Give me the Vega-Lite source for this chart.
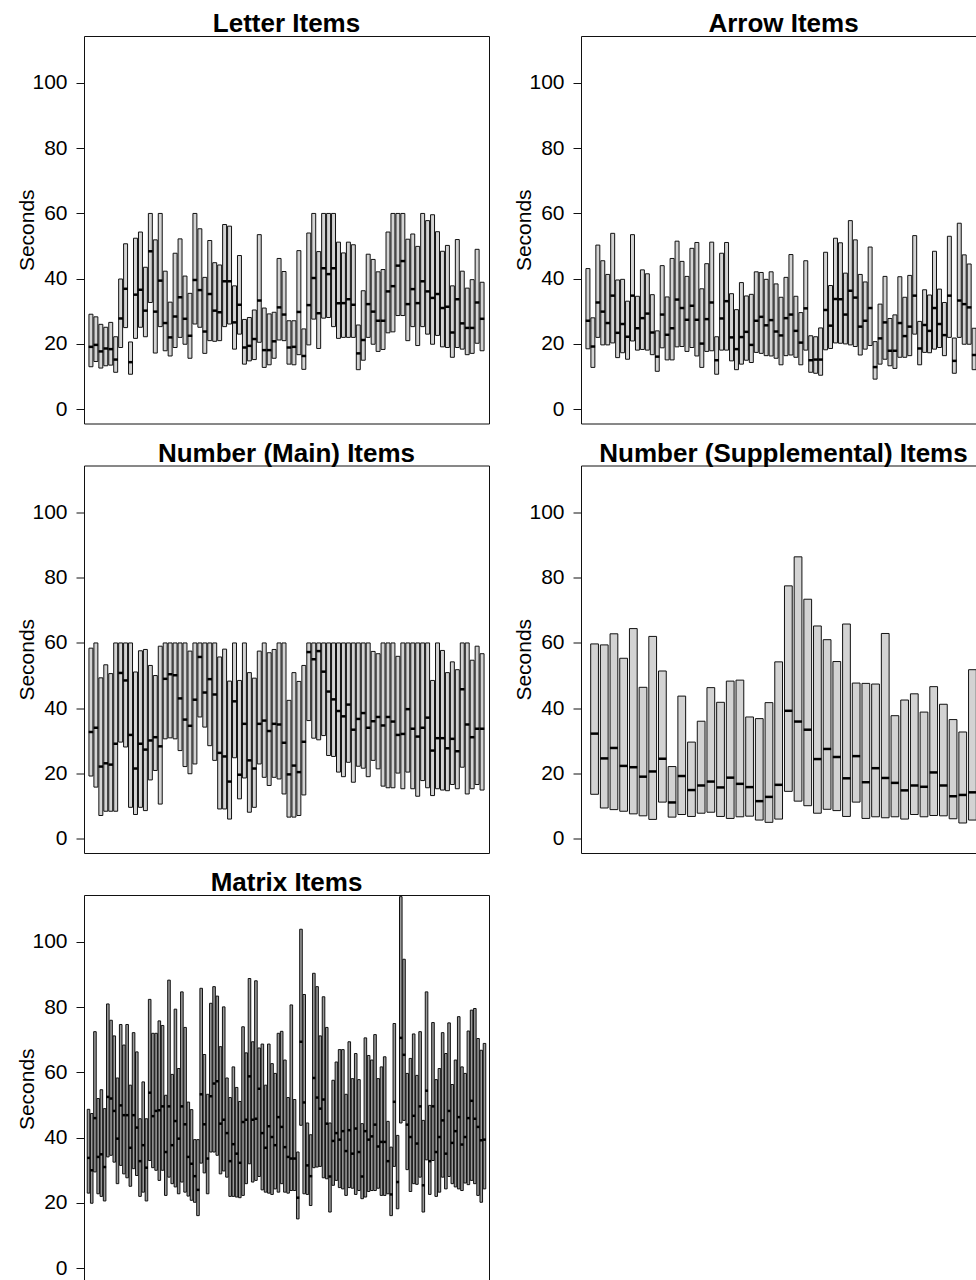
{"$schema":"https://vega.github.io/schema/vega-lite/v6.json","background":"white","padding":{"left":16,"top":10,"right":0,"bottom":0},
"config":{"view":{"stroke":"#111","strokeWidth":1},
"axisY":{"domain":false,"grid":false,"tickColor":"#111","tickSize":8,"tickWidth":1,"labelFont":"Liberation Sans","labelFontSize":21,"labelColor":"#000","labelPadding":9,"titleFont":"Liberation Sans","titleFontSize":21,"titleFontWeight":"normal","titleColor":"#000","titleAngle":-90,"titleX":-50.5,"titleY":193.75,"titleBaseline":"alphabetic","titleAlign":"center"},
"title":{"font":"Liberation Sans","fontSize":26,"fontWeight":"bold","color":"#000","offset":-1,"baseline":"alphabetic","anchor":"middle"}},
"datasets":{
"letter":[{"i":1,"lo":13.0,"md":19.1,"hi":29.1},{"i":2,"lo":14.6,"md":19.7,"hi":28.3},{"i":3,"lo":12.6,"md":17.7,"hi":26.0},{"i":4,"lo":13.3,"md":18.6,"hi":25.1},{"i":5,"lo":13.5,"md":18.4,"hi":26.6},{"i":6,"lo":11.3,"md":15.2,"hi":22.2},{"i":7,"lo":18.9,"md":27.8,"hi":39.9},{"i":8,"lo":25.0,"md":36.9,"hi":50.7},{"i":9,"lo":10.7,"md":14.4,"hi":20.6},{"i":10,"lo":21.7,"md":35.1,"hi":52.4},{"i":11,"lo":25.1,"md":36.6,"hi":54.3},{"i":12,"lo":22.2,"md":30.2,"hi":43.5},{"i":13,"lo":32.7,"md":48.4,"hi":60},{"i":14,"lo":17.2,"md":29.9,"hi":51.9},{"i":15,"lo":25.3,"md":39.4,"hi":60},{"i":16,"lo":17.9,"md":26.4,"hi":42.3},{"i":17,"lo":16.3,"md":22.0,"hi":32.8},{"i":18,"lo":18.9,"md":28.4,"hi":47.8},{"i":19,"lo":22.0,"md":34.3,"hi":52.2},{"i":20,"lo":19.9,"md":27.7,"hi":40.8},{"i":21,"lo":15.6,"md":22.5,"hi":35.5},{"i":22,"lo":26.1,"md":39.6,"hi":60},{"i":23,"lo":25.1,"md":36.5,"hi":55.3},{"i":24,"lo":17.1,"md":23.8,"hi":40.4},{"i":25,"lo":21.0,"md":35.3,"hi":51.7},{"i":26,"lo":20.8,"md":30.2,"hi":44.9},{"i":27,"lo":21.0,"md":29.7,"hi":44.2},{"i":28,"lo":25.3,"md":39.2,"hi":56.6},{"i":29,"lo":26.1,"md":39.2,"hi":56.1},{"i":30,"lo":18.4,"md":26.6,"hi":37.8},{"i":31,"lo":23.0,"md":32.0,"hi":47.1},{"i":32,"lo":13.8,"md":18.9,"hi":27.5},{"i":33,"lo":14.8,"md":19.4,"hi":28.1},{"i":34,"lo":15.2,"md":21.5,"hi":30.4},{"i":35,"lo":20.5,"md":33.3,"hi":53.5},{"i":36,"lo":12.8,"md":18.1,"hi":31.0},{"i":37,"lo":13.6,"md":18.1,"hi":29.2},{"i":38,"lo":15.6,"md":20.8,"hi":29.7},{"i":39,"lo":21.2,"md":31.2,"hi":46.2},{"i":40,"lo":21.0,"md":29.0,"hi":42.2},{"i":41,"lo":13.8,"md":18.9,"hi":27.1},{"i":42,"lo":13.6,"md":19.1,"hi":27.1},{"i":43,"lo":16.7,"md":29.8,"hi":48.6},{"i":44,"lo":12.2,"md":16.3,"hi":24.6},{"i":45,"lo":19.7,"md":31.9,"hi":54.0},{"i":46,"lo":27.6,"md":40.2,"hi":60},{"i":47,"lo":18.6,"md":29.4,"hi":48.3},{"i":48,"lo":27.9,"md":43.2,"hi":60},{"i":49,"lo":28.1,"md":41.4,"hi":60},{"i":50,"lo":25.3,"md":43.2,"hi":60},{"i":51,"lo":21.7,"md":32.5,"hi":51.2},{"i":52,"lo":22.0,"md":32.5,"hi":47.9},{"i":53,"lo":22.0,"md":33.7,"hi":51.2},{"i":54,"lo":22.0,"md":32.0,"hi":50.4},{"i":55,"lo":12.1,"md":17.1,"hi":25.8},{"i":56,"lo":15.0,"md":21.2,"hi":36.3},{"i":57,"lo":22.0,"md":32.2,"hi":47.5},{"i":58,"lo":19.9,"md":29.9,"hi":45.9},{"i":59,"lo":17.7,"md":27.1,"hi":42.1},{"i":60,"lo":18.3,"md":27.1,"hi":42.8},{"i":61,"lo":23.4,"md":36.1,"hi":54.3},{"i":62,"lo":23.7,"md":37.7,"hi":60},{"i":63,"lo":28.7,"md":44.0,"hi":60},{"i":64,"lo":28.7,"md":45.4,"hi":60},{"i":65,"lo":21.0,"md":32.2,"hi":52.1},{"i":66,"lo":25.3,"md":36.8,"hi":53.7},{"i":67,"lo":19.5,"md":32.5,"hi":49.9},{"i":68,"lo":25.3,"md":39.2,"hi":60},{"i":69,"lo":23.0,"md":36.1,"hi":57.8},{"i":70,"lo":19.9,"md":34.1,"hi":59.6},{"i":71,"lo":22.6,"md":35.3,"hi":54.4},{"i":72,"lo":19.1,"md":31.0,"hi":48.4},{"i":73,"lo":18.9,"md":31.4,"hi":50.2},{"i":74,"lo":15.9,"md":23.5,"hi":37.8},{"i":75,"lo":18.9,"md":33.7,"hi":52.0},{"i":76,"lo":18.4,"md":26.3,"hi":42.3},{"i":77,"lo":16.7,"md":24.9,"hi":37.1},{"i":78,"lo":17.1,"md":24.9,"hi":39.7},{"i":79,"lo":20.2,"md":32.7,"hi":49.0},{"i":80,"lo":17.9,"md":27.7,"hi":38.9}],
"arrow":[{"i":1,"lo":18.5,"md":27.1,"hi":43.1},{"i":2,"lo":12.8,"md":19.2,"hi":28.0},{"i":3,"lo":22.0,"md":32.7,"hi":50.3},{"i":4,"lo":19.7,"md":29.9,"hi":45.5},{"i":5,"lo":19.7,"md":26.4,"hi":41.3},{"i":6,"lo":20.3,"md":34.8,"hi":53.9},{"i":7,"lo":15.8,"md":23.4,"hi":39.6},{"i":8,"lo":17.3,"md":26.1,"hi":39.8},{"i":9,"lo":15.3,"md":22.2,"hi":33.1},{"i":10,"lo":20.9,"md":34.8,"hi":53.5},{"i":11,"lo":18.1,"md":24.8,"hi":34.6},{"i":12,"lo":18.3,"md":27.9,"hi":42.7},{"i":13,"lo":18.1,"md":29.3,"hi":41.5},{"i":14,"lo":16.7,"md":23.5,"hi":35.1},{"i":15,"lo":11.6,"md":16.1,"hi":24.0},{"i":16,"lo":18.8,"md":29.0,"hi":44.0},{"i":17,"lo":15.1,"md":22.8,"hi":34.4},{"i":18,"lo":15.1,"md":24.8,"hi":46.2},{"i":19,"lo":19.1,"md":33.6,"hi":51.5},{"i":20,"lo":19.2,"md":31.0,"hi":45.3},{"i":21,"lo":17.7,"md":27.4,"hi":40.7},{"i":22,"lo":18.9,"md":31.7,"hi":49.3},{"i":23,"lo":16.3,"md":27.4,"hi":51.1},{"i":24,"lo":12.8,"md":20.1,"hi":36.9},{"i":25,"lo":17.7,"md":27.6,"hi":44.6},{"i":26,"lo":17.9,"md":32.7,"hi":51.2},{"i":27,"lo":10.7,"md":15.0,"hi":22.2},{"i":28,"lo":18.1,"md":27.8,"hi":47.8},{"i":29,"lo":18.1,"md":33.1,"hi":51.1},{"i":30,"lo":14.8,"md":22.0,"hi":35.4},{"i":31,"lo":12.1,"md":18.4,"hi":30.5},{"i":32,"lo":13.8,"md":22.1,"hi":38.8},{"i":33,"lo":15.0,"md":23.7,"hi":34.7},{"i":34,"lo":14.3,"md":19.7,"hi":35.2},{"i":35,"lo":17.4,"md":27.1,"hi":42.1},{"i":36,"lo":17.1,"md":28.3,"hi":41.9},{"i":37,"lo":16.4,"md":25.7,"hi":39.8},{"i":38,"lo":16.3,"md":27.3,"hi":42.1},{"i":39,"lo":15.6,"md":23.8,"hi":38.4},{"i":40,"lo":13.6,"md":22.6,"hi":34.3},{"i":41,"lo":16.4,"md":27.9,"hi":40.4},{"i":42,"lo":16.6,"md":29.0,"hi":47.4},{"i":43,"lo":15.9,"md":24.0,"hi":34.6},{"i":44,"lo":13.6,"md":20.4,"hi":29.6},{"i":45,"lo":18.1,"md":30.9,"hi":45.5},{"i":46,"lo":11.3,"md":15.0,"hi":22.5},{"i":47,"lo":11.0,"md":15.2,"hi":22.2},{"i":48,"lo":10.4,"md":15.2,"hi":24.9},{"i":49,"lo":18.2,"md":30.4,"hi":48.1},{"i":50,"lo":18.6,"md":25.6,"hi":37.9},{"i":51,"lo":20.3,"md":33.8,"hi":52.4},{"i":52,"lo":20.2,"md":33.7,"hi":51.0},{"i":53,"lo":20.0,"md":29.0,"hi":41.7},{"i":54,"lo":19.7,"md":36.3,"hi":57.8},{"i":55,"lo":19.2,"md":34.2,"hi":51.9},{"i":56,"lo":16.6,"md":25.3,"hi":41.3},{"i":57,"lo":18.4,"md":27.1,"hi":39.0},{"i":58,"lo":19.5,"md":31.0,"hi":49.7},{"i":59,"lo":9.2,"md":12.9,"hi":20.7},{"i":60,"lo":13.8,"md":21.7,"hi":32.2},{"i":61,"lo":15.3,"md":26.6,"hi":40.7},{"i":62,"lo":13.3,"md":17.9,"hi":27.8},{"i":63,"lo":12.5,"md":17.9,"hi":28.9},{"i":64,"lo":15.9,"md":26.4,"hi":40.6},{"i":65,"lo":15.9,"md":22.4,"hi":34.3},{"i":66,"lo":16.4,"md":25.3,"hi":41.0},{"i":67,"lo":23.0,"md":34.8,"hi":53.2},{"i":68,"lo":13.6,"md":18.6,"hi":26.9},{"i":69,"lo":17.4,"md":25.8,"hi":36.6},{"i":70,"lo":17.3,"md":24.0,"hi":35.0},{"i":71,"lo":18.4,"md":31.0,"hi":48.4},{"i":72,"lo":18.9,"md":26.1,"hi":36.8},{"i":73,"lo":16.4,"md":22.7,"hi":32.7},{"i":74,"lo":22.0,"md":34.8,"hi":53.0},{"i":75,"lo":11.0,"md":14.8,"hi":21.8},{"i":76,"lo":22.0,"md":33.3,"hi":57.0},{"i":77,"lo":19.9,"md":32.2,"hi":47.3},{"i":78,"lo":19.9,"md":31.2,"hi":44.5},{"i":79,"lo":12.1,"md":16.6,"hi":24.8},{"i":80,"lo":12.3,"md":18.9,"hi":30.9}],
"nmain":[{"i":1,"lo":19.2,"md":32.7,"hi":58.4},{"i":2,"lo":15.8,"md":34.0,"hi":60},{"i":3,"lo":7.1,"md":22.1,"hi":49.3},{"i":4,"lo":8.4,"md":23.1,"hi":53.3},{"i":5,"lo":8.4,"md":22.7,"hi":50.6},{"i":6,"lo":8.4,"md":29.1,"hi":60},{"i":7,"lo":29.6,"md":50.8,"hi":60},{"i":8,"lo":28.1,"md":48.5,"hi":60},{"i":9,"lo":9.6,"md":31.8,"hi":60},{"i":10,"lo":7.4,"md":21.5,"hi":51.1},{"i":11,"lo":9.6,"md":29.1,"hi":57.6},{"i":12,"lo":8.6,"md":27.3,"hi":58.0},{"i":13,"lo":18.0,"md":30.1,"hi":53.1},{"i":14,"lo":20.9,"md":31.1,"hi":50.0},{"i":15,"lo":10.6,"md":28.3,"hi":59.0},{"i":16,"lo":30.6,"md":49.0,"hi":60},{"i":17,"lo":30.9,"md":50.4,"hi":60},{"i":18,"lo":30.6,"md":50.1,"hi":60},{"i":19,"lo":27.0,"md":43.0,"hi":60},{"i":20,"lo":22.1,"md":36.5,"hi":60},{"i":21,"lo":19.9,"md":34.6,"hi":57.5},{"i":22,"lo":22.9,"md":42.6,"hi":60},{"i":23,"lo":37.3,"md":55.7,"hi":60},{"i":24,"lo":34.2,"md":44.8,"hi":60},{"i":25,"lo":28.5,"md":48.9,"hi":60},{"i":26,"lo":24.0,"md":44.2,"hi":60},{"i":27,"lo":9.1,"md":26.3,"hi":55.7},{"i":28,"lo":9.1,"md":25.2,"hi":58.1},{"i":29,"lo":6.0,"md":17.5,"hi":48.3},{"i":30,"lo":24.8,"md":42.1,"hi":60},{"i":31,"lo":12.2,"md":19.6,"hi":48.5},{"i":32,"lo":18.6,"md":35.2,"hi":60},{"i":33,"lo":8.1,"md":24.0,"hi":50.9},{"i":34,"lo":9.6,"md":21.5,"hi":49.2},{"i":35,"lo":22.9,"md":35.2,"hi":57.5},{"i":36,"lo":18.8,"md":36.2,"hi":60},{"i":37,"lo":16.3,"md":33.0,"hi":57.0},{"i":38,"lo":18.8,"md":35.2,"hi":58.0},{"i":39,"lo":18.3,"md":35.0,"hi":60},{"i":40,"lo":13.7,"md":29.4,"hi":60},{"i":41,"lo":6.6,"md":19.7,"hi":42.4},{"i":42,"lo":6.6,"md":22.4,"hi":50.9},{"i":43,"lo":7.1,"md":20.4,"hi":48.2},{"i":44,"lo":13.4,"md":29.7,"hi":53.1},{"i":45,"lo":36.2,"md":57.2,"hi":60},{"i":46,"lo":30.8,"md":55.0,"hi":60},{"i":47,"lo":30.3,"md":57.5,"hi":60},{"i":48,"lo":31.6,"md":51.2,"hi":60},{"i":49,"lo":25.5,"md":45.1,"hi":60},{"i":50,"lo":25.2,"md":42.7,"hi":60},{"i":51,"lo":20.4,"md":39.1,"hi":60},{"i":52,"lo":19.0,"md":37.5,"hi":60},{"i":53,"lo":23.4,"md":41.1,"hi":60},{"i":54,"lo":17.3,"md":33.4,"hi":60},{"i":55,"lo":22.2,"md":36.7,"hi":60},{"i":56,"lo":21.6,"md":38.5,"hi":60},{"i":57,"lo":19.0,"md":34.0,"hi":60},{"i":58,"lo":24.0,"md":36.0,"hi":57.4},{"i":59,"lo":21.4,"md":37.3,"hi":56.7},{"i":60,"lo":16.1,"md":34.7,"hi":60},{"i":61,"lo":15.6,"md":37.3,"hi":60},{"i":62,"lo":15.6,"md":35.9,"hi":60},{"i":63,"lo":20.1,"md":31.8,"hi":55.9},{"i":64,"lo":15.3,"md":32.1,"hi":60},{"i":65,"lo":20.4,"md":39.7,"hi":60},{"i":66,"lo":15.3,"md":33.7,"hi":60},{"i":67,"lo":13.0,"md":31.3,"hi":60},{"i":68,"lo":17.8,"md":34.0,"hi":60},{"i":69,"lo":15.6,"md":37.1,"hi":60},{"i":70,"lo":13.2,"md":27.0,"hi":48.5},{"i":71,"lo":15.3,"md":30.8,"hi":60},{"i":72,"lo":14.9,"md":30.8,"hi":57.7},{"i":73,"lo":14.7,"md":27.7,"hi":50.9},{"i":74,"lo":16.6,"md":30.6,"hi":54.2},{"i":75,"lo":15.3,"md":26.8,"hi":51.8},{"i":76,"lo":21.9,"md":45.8,"hi":60},{"i":77,"lo":13.7,"md":35.0,"hi":60},{"i":78,"lo":15.3,"md":31.1,"hi":54.7},{"i":79,"lo":16.6,"md":33.7,"hi":59.0},{"i":80,"lo":14.9,"md":33.7,"hi":56.7}],
"nsupp":[{"i":1,"lo":13.6,"md":32.2,"hi":59.7},{"i":2,"lo":9.4,"md":24.6,"hi":59.4},{"i":3,"lo":8.9,"md":27.8,"hi":62.8},{"i":4,"lo":8.4,"md":22.3,"hi":55.3},{"i":5,"lo":7.6,"md":21.9,"hi":64.4},{"i":6,"lo":7.0,"md":19.0,"hi":46.4},{"i":7,"lo":5.9,"md":20.6,"hi":62.0},{"i":8,"lo":11.2,"md":24.5,"hi":51.4},{"i":9,"lo":6.6,"md":11.1,"hi":22.1},{"i":10,"lo":7.4,"md":19.2,"hi":43.7},{"i":11,"lo":6.8,"md":14.9,"hi":29.6},{"i":12,"lo":7.8,"md":16.3,"hi":36.0},{"i":13,"lo":8.1,"md":17.5,"hi":46.3},{"i":14,"lo":6.8,"md":15.7,"hi":41.8},{"i":15,"lo":6.2,"md":18.7,"hi":48.3},{"i":16,"lo":6.7,"md":16.8,"hi":48.6},{"i":17,"lo":6.9,"md":15.8,"hi":37.3},{"i":18,"lo":5.7,"md":11.5,"hi":36.8},{"i":19,"lo":5.0,"md":12.8,"hi":41.7},{"i":20,"lo":6.0,"md":16.5,"hi":54.2},{"i":21,"lo":14.5,"md":39.2,"hi":77.5},{"i":22,"lo":11.5,"md":35.9,"hi":86.4},{"i":23,"lo":10.1,"md":33.4,"hi":73.4},{"i":24,"lo":7.8,"md":24.4,"hi":65.2},{"i":25,"lo":9.0,"md":27.5,"hi":61.0},{"i":26,"lo":8.6,"md":25.0,"hi":54.3},{"i":27,"lo":6.8,"md":18.5,"hi":65.8},{"i":28,"lo":11.2,"md":25.3,"hi":47.7},{"i":29,"lo":6.2,"md":17.3,"hi":47.6},{"i":30,"lo":6.7,"md":21.6,"hi":47.4},{"i":31,"lo":6.4,"md":18.6,"hi":62.9},{"i":32,"lo":6.7,"md":17.1,"hi":37.7},{"i":33,"lo":6.0,"md":14.8,"hi":42.5},{"i":34,"lo":7.4,"md":16.3,"hi":44.4},{"i":35,"lo":6.7,"md":15.9,"hi":38.8},{"i":36,"lo":7.1,"md":20.3,"hi":46.6},{"i":37,"lo":7.0,"md":16.3,"hi":41.2},{"i":38,"lo":6.1,"md":13.0,"hi":36.5},{"i":39,"lo":4.8,"md":13.4,"hi":32.7},{"i":40,"lo":5.7,"md":14.2,"hi":51.8}],
"matrix":[{"i":1,"lo":23.0,"md":33.8,"hi":48.7},{"i":2,"lo":19.9,"md":30.0,"hi":47.4},{"i":3,"lo":29.5,"md":46.0,"hi":72.5},{"i":4,"lo":22.8,"md":34.1,"hi":52.0},{"i":5,"lo":22.0,"md":34.9,"hi":54.7},{"i":6,"lo":20.6,"md":31.0,"hi":48.9},{"i":7,"lo":34.1,"md":52.5,"hi":81.0},{"i":8,"lo":34.6,"md":52.0,"hi":76.0},{"i":9,"lo":32.5,"md":48.2,"hi":71.2},{"i":10,"lo":25.9,"md":39.7,"hi":58.3},{"i":11,"lo":31.5,"md":49.9,"hi":74.7},{"i":12,"lo":28.9,"md":46.9,"hi":68.4},{"i":13,"lo":27.7,"md":46.9,"hi":74.7},{"i":14,"lo":25.1,"md":36.9,"hi":56.1},{"i":15,"lo":30.5,"md":46.9,"hi":72.2},{"i":16,"lo":28.4,"md":43.1,"hi":66.3},{"i":17,"lo":22.0,"md":32.8,"hi":45.8},{"i":18,"lo":23.3,"md":37.7,"hi":57.1},{"i":19,"lo":20.6,"md":30.8,"hi":45.8},{"i":20,"lo":33.0,"md":53.8,"hi":82.4},{"i":21,"lo":30.8,"md":46.6,"hi":72.0},{"i":22,"lo":30.0,"md":48.2,"hi":72.0},{"i":23,"lo":26.9,"md":48.4,"hi":75.8},{"i":24,"lo":30.0,"md":49.6,"hi":74.4},{"i":25,"lo":22.3,"md":35.6,"hi":53.0},{"i":26,"lo":27.9,"md":49.6,"hi":88.3},{"i":27,"lo":25.9,"md":37.7,"hi":59.4},{"i":28,"lo":24.9,"md":45.1,"hi":79.4},{"i":29,"lo":22.8,"md":39.7,"hi":61.2},{"i":30,"lo":26.4,"md":49.6,"hi":84.7},{"i":31,"lo":23.3,"md":44.1,"hi":73.8},{"i":32,"lo":22.1,"md":34.1,"hi":50.9},{"i":33,"lo":20.8,"md":32.0,"hi":48.6},{"i":34,"lo":20.2,"md":28.2,"hi":39.4},{"i":35,"lo":16.1,"md":24.0,"hi":39.4},{"i":36,"lo":32.2,"md":53.3,"hi":85.8},{"i":37,"lo":29.2,"md":44.1,"hi":65.5},{"i":38,"lo":22.8,"md":33.6,"hi":53.3},{"i":39,"lo":35.6,"md":52.7,"hi":81.2},{"i":40,"lo":35.6,"md":56.6,"hi":86.3},{"i":41,"lo":34.6,"md":57.3,"hi":83.4},{"i":42,"lo":28.9,"md":44.3,"hi":67.9},{"i":43,"lo":29.8,"md":45.5,"hi":80.1},{"i":44,"lo":27.9,"md":41.4,"hi":58.3},{"i":45,"lo":22.0,"md":32.8,"hi":52.3},{"i":46,"lo":22.0,"md":38.0,"hi":61.7},{"i":47,"lo":21.8,"md":35.1,"hi":55.4},{"i":48,"lo":21.6,"md":32.3,"hi":51.1},{"i":49,"lo":22.3,"md":44.8,"hi":74.0},{"i":50,"lo":25.9,"md":45.5,"hi":66.0},{"i":51,"lo":32.0,"md":58.8,"hi":88.8},{"i":52,"lo":26.4,"md":45.5,"hi":69.4},{"i":53,"lo":26.9,"md":45.8,"hi":88.1},{"i":54,"lo":28.1,"md":55.0,"hi":67.5},{"i":55,"lo":24.0,"md":41.4,"hi":68.7},{"i":56,"lo":23.3,"md":36.9,"hi":56.1},{"i":57,"lo":23.0,"md":43.5,"hi":68.7},{"i":58,"lo":22.6,"md":40.2,"hi":62.7},{"i":59,"lo":24.3,"md":37.7,"hi":59.7},{"i":60,"lo":23.3,"md":46.3,"hi":72.0},{"i":61,"lo":25.9,"md":43.3,"hi":72.6},{"i":62,"lo":23.3,"md":37.1,"hi":63.8},{"i":63,"lo":23.0,"md":34.1,"hi":52.3},{"i":64,"lo":23.8,"md":33.6,"hi":80.7},{"i":65,"lo":23.8,"md":33.6,"hi":51.7},{"i":66,"lo":15.1,"md":21.6,"hi":35.6},{"i":67,"lo":43.8,"md":69.4,"hi":103.9},{"i":68,"lo":22.8,"md":50.8,"hi":83.9},{"i":69,"lo":22.6,"md":31.5,"hi":44.5},{"i":70,"lo":19.2,"md":28.2,"hi":40.9},{"i":71,"lo":30.8,"md":58.3,"hi":90.4},{"i":72,"lo":31.0,"md":52.3,"hi":86.3},{"i":73,"lo":31.2,"md":48.9,"hi":71.2},{"i":74,"lo":27.7,"md":51.7,"hi":83.2},{"i":75,"lo":27.4,"md":44.3,"hi":73.8},{"i":76,"lo":17.2,"md":28.1,"hi":44.5},{"i":77,"lo":25.4,"md":39.0,"hi":57.6},{"i":78,"lo":26.9,"md":41.4,"hi":63.2},{"i":79,"lo":24.7,"md":39.4,"hi":67.0},{"i":80,"lo":24.3,"md":42.0,"hi":67.0},{"i":81,"lo":22.3,"md":35.9,"hi":53.3},{"i":82,"lo":24.7,"md":42.3,"hi":69.4},{"i":83,"lo":24.5,"md":35.1,"hi":58.1},{"i":84,"lo":22.6,"md":42.8,"hi":65.8},{"i":85,"lo":23.8,"md":35.6,"hi":57.8},{"i":86,"lo":21.3,"md":28.1,"hi":44.3},{"i":87,"lo":21.8,"md":42.0,"hi":70.6},{"i":88,"lo":23.5,"md":39.4,"hi":65.2},{"i":89,"lo":23.8,"md":40.4,"hi":63.8},{"i":90,"lo":23.8,"md":44.0,"hi":71.6},{"i":91,"lo":24.5,"md":37.3,"hi":58.1},{"i":92,"lo":22.3,"md":38.7,"hi":61.7},{"i":93,"lo":22.3,"md":38.7,"hi":64.8},{"i":94,"lo":22.8,"md":32.8,"hi":45.0},{"i":95,"lo":16.1,"md":22.6,"hi":37.1},{"i":96,"lo":31.2,"md":51.0,"hi":75.0},{"i":97,"lo":18.2,"md":26.4,"hi":40.7},{"i":98,"lo":44.5,"md":70.6,"hi":113.9},{"i":99,"lo":45.3,"md":65.4,"hi":94.7},{"i":100,"lo":30.2,"md":44.0,"hi":59.7},{"i":101,"lo":23.5,"md":40.2,"hi":64.3},{"i":102,"lo":25.9,"md":46.7,"hi":71.8},{"i":103,"lo":25.7,"md":38.2,"hi":59.1},{"i":104,"lo":27.9,"md":49.6,"hi":72.5},{"i":105,"lo":17.2,"md":25.4,"hi":45.3},{"i":106,"lo":33.2,"md":54.4,"hi":84.7},{"i":107,"lo":22.6,"md":32.8,"hi":49.9},{"i":108,"lo":33.0,"md":49.6,"hi":75.3},{"i":109,"lo":22.0,"md":35.6,"hi":57.8},{"i":110,"lo":23.3,"md":40.2,"hi":61.2},{"i":111,"lo":27.9,"md":45.3,"hi":72.2},{"i":112,"lo":24.3,"md":35.1,"hi":65.8},{"i":113,"lo":28.1,"md":48.2,"hi":75.2},{"i":114,"lo":25.9,"md":38.4,"hi":56.3},{"i":115,"lo":24.9,"md":42.0,"hi":63.8},{"i":116,"lo":24.3,"md":46.3,"hi":77.1},{"i":117,"lo":23.8,"md":37.9,"hi":61.7},{"i":118,"lo":26.1,"md":40.2,"hi":59.7},{"i":119,"lo":25.6,"md":46.0,"hi":72.7},{"i":120,"lo":26.9,"md":51.3,"hi":79.1},{"i":121,"lo":25.9,"md":45.8,"hi":79.6},{"i":122,"lo":22.3,"md":43.3,"hi":70.4},{"i":123,"lo":20.2,"md":39.2,"hi":66.8},{"i":124,"lo":24.3,"md":39.4,"hi":68.9}]},
"spacing":15.5,
"vconcat":[
{"spacing":23,"hconcat":[
{"title":"Letter Items","width":405,"height":387.5,"data":{"name":"letter"},"encoding":{"x":{"field":"i","type":"ordinal","axis":null,"scale":{"paddingInner":0.2,"paddingOuter":3.3}}},"layer":[{"mark":{"type":"bar","fill":"#d3d3d3","stroke":"#111","strokeWidth":1},"encoding":{"y":{"field":"hi","type":"quantitative","title":"Seconds","scale":{"domain":[-4.4,114.4],"nice":false,"zero":false},"axis":{"values":[0,20,40,60,80,100]}},"y2":{"field":"lo"}}},{"mark":{"type":"tick","color":"#000","thickness":2.5,"size":4.5,"opacity":1},"encoding":{"y":{"field":"md","type":"quantitative","title":"Seconds"}}}]},
{"title":"Arrow Items","width":405,"height":387.5,"data":{"name":"arrow"},"encoding":{"x":{"field":"i","type":"ordinal","axis":null,"scale":{"paddingInner":0.2,"paddingOuter":3.3}}},"layer":[{"mark":{"type":"bar","fill":"#d3d3d3","stroke":"#111","strokeWidth":1},"encoding":{"y":{"field":"hi","type":"quantitative","title":"Seconds","scale":{"domain":[-4.4,114.4],"nice":false,"zero":false},"axis":{"values":[0,20,40,60,80,100]}},"y2":{"field":"lo"}}},{"mark":{"type":"tick","color":"#000","thickness":2.5,"size":4.5,"opacity":1},"encoding":{"y":{"field":"md","type":"quantitative","title":"Seconds"}}}]}]},
{"spacing":23,"hconcat":[
{"title":"Number (Main) Items","width":405,"height":387.5,"data":{"name":"nmain"},"encoding":{"x":{"field":"i","type":"ordinal","axis":null,"scale":{"paddingInner":0.2,"paddingOuter":3.3}}},"layer":[{"mark":{"type":"bar","fill":"#d3d3d3","stroke":"#111","strokeWidth":1},"encoding":{"y":{"field":"hi","type":"quantitative","title":"Seconds","scale":{"domain":[-4.4,114.4],"nice":false,"zero":false},"axis":{"values":[0,20,40,60,80,100]}},"y2":{"field":"lo"}}},{"mark":{"type":"tick","color":"#000","thickness":2.5,"size":4.5,"opacity":1},"encoding":{"y":{"field":"md","type":"quantitative","title":"Seconds"}}}]},
{"title":"Number (Supplemental) Items","width":405,"height":387.5,"data":{"name":"nsupp"},"encoding":{"x":{"field":"i","type":"ordinal","axis":null,"scale":{"paddingInner":0.2,"paddingOuter":1.7}}},"layer":[{"mark":{"type":"bar","fill":"#d3d3d3","stroke":"#111","strokeWidth":1},"encoding":{"y":{"field":"hi","type":"quantitative","title":"Seconds","scale":{"domain":[-4.4,114.4],"nice":false,"zero":false},"axis":{"values":[0,20,40,60,80,100]}},"y2":{"field":"lo"}}},{"mark":{"type":"tick","color":"#000","thickness":2.5,"size":8,"opacity":1},"encoding":{"y":{"field":"md","type":"quantitative","title":"Seconds"}}}]}]},
{"hconcat":[
{"title":"Matrix Items","width":405,"height":387.5,"data":{"name":"matrix"},"encoding":{"x":{"field":"i","type":"ordinal","axis":null,"scale":{"paddingInner":0.2,"paddingOuter":5.06}}},"layer":[{"mark":{"type":"bar","fill":"#9a9a9a","stroke":"#111","strokeWidth":1},"encoding":{"y":{"field":"hi","type":"quantitative","title":"Seconds","scale":{"domain":[-4.4,114.4],"nice":false,"zero":false},"axis":{"values":[0,20,40,60,80,100]}},"y2":{"field":"lo"}}},{"mark":{"type":"tick","color":"#000","thickness":2.5,"size":3,"opacity":1},"encoding":{"y":{"field":"md","type":"quantitative","title":"Seconds"}}}]}]}
]}
